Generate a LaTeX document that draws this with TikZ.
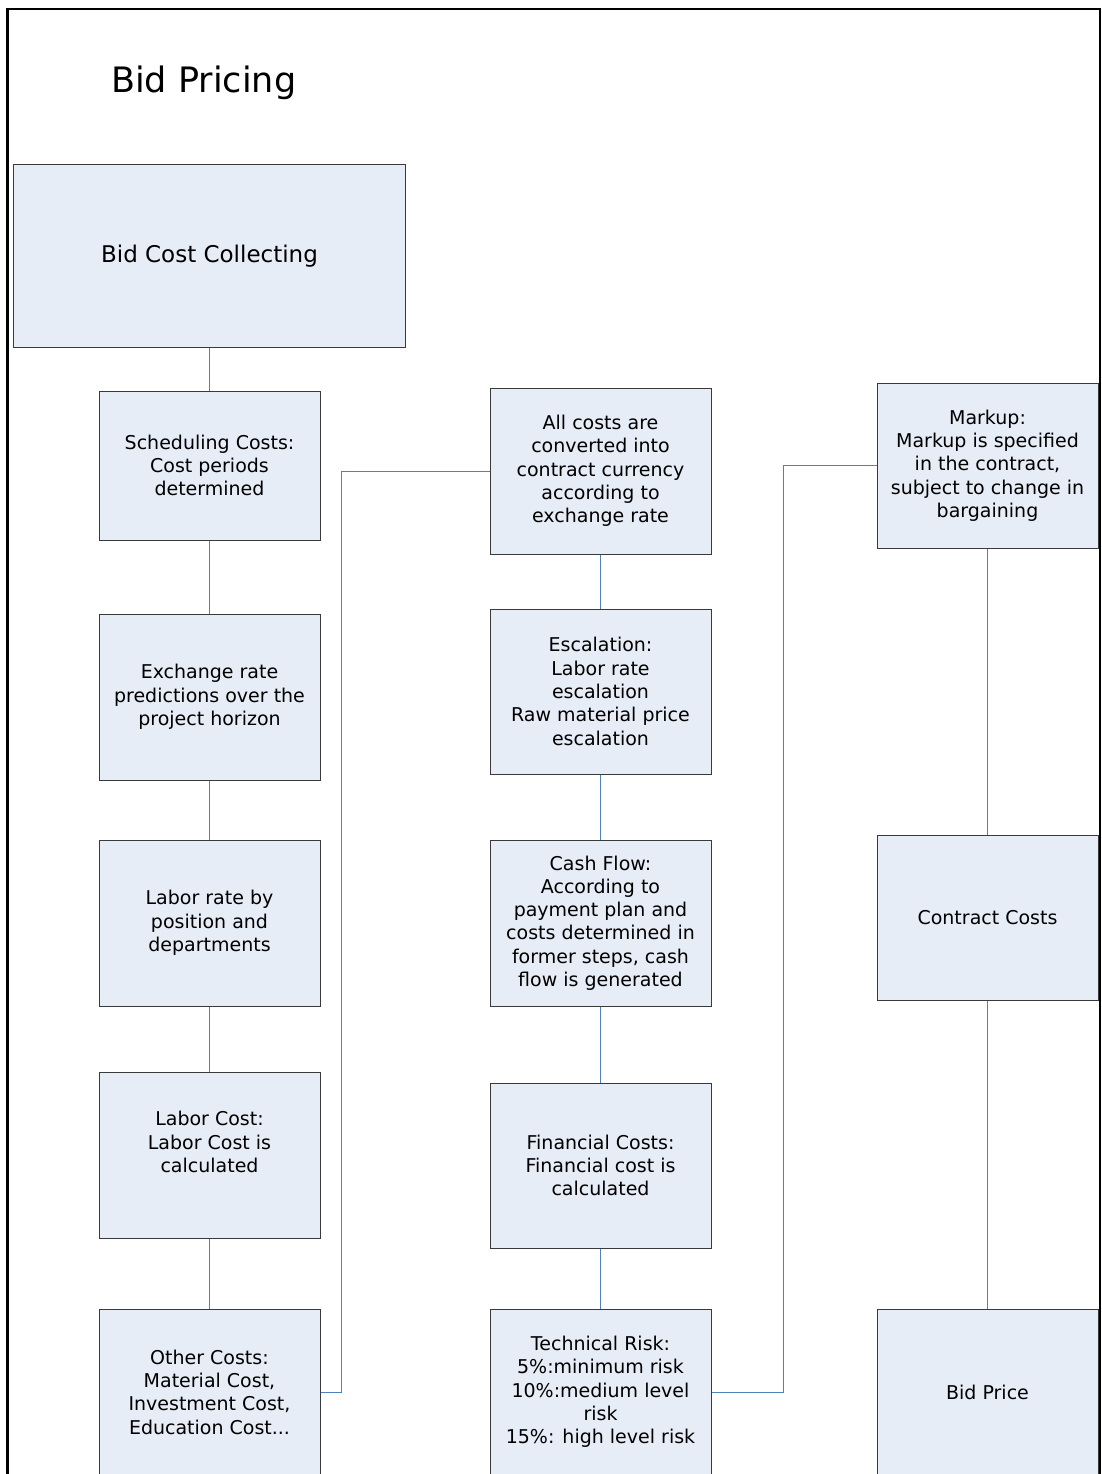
\documentclass[tikz,border=0pt]{standalone}
\usepackage{fontspec}
\setmainfont{DejaVu Sans}
\definecolor{boxfill}{HTML}{E7EDF7}
\definecolor{boxline}{HTML}{3A3A3A}
\definecolor{connblue}{HTML}{4F81BD}
\begin{document}
\begin{tikzpicture}[x=1pt,y=-1pt,
  box/.style={draw=boxline, fill=boxfill, line width=1pt, align=center, inner sep=0pt,
    minimum width=221, font=\fontsize{19}{23.3}\selectfont},
  txt/.style={align=center, inner sep=0pt, font=\fontsize{19}{23.3}\selectfont},
  conn/.style={draw=connblue, line width=1pt}]
\useasboundingbox (0,0) rectangle (1102,1474);
\clip (0,0) rectangle (1102,1474);
\draw[line width=2.5pt] (7.5,1500) -- (7.5,9) -- (1100,9) -- (1100,1500);

\node[anchor=base west, inner sep=0pt, font=\fontsize{35}{42}\selectfont] (title) at (111,93) {Bid Pricing};

\node[box, minimum width=392, minimum height=182, font=\fontsize{23}{28}\selectfont] (bcc) at (209.5,256) {Bid Cost Collecting};

% left column
\node[box, minimum height=149] (sc) at (209.5,465.5) {Scheduling Costs:\\Cost periods\\determined};
\node[box, minimum height=166] (ex) at (209.5,697) {Exchange rate\\predictions over the\\project horizon};
\node[box, minimum height=166] (lr) at (209.5,923) {Labor rate by\\position and\\departments};
\node[box, minimum height=166, label={[txt, yshift=13pt]center:{Labor Cost:\\Labor Cost is\\calculated}}] (lc) at (209.5,1155) {};
\node[box, minimum height=166] (oc) at (209.5,1392) {Other Costs:\\Material Cost,\\Investment Cost,\\Education Cost...};

% middle column
\node[box, minimum height=166] (ac) at (600.5,471) {All costs are\\converted into\\contract currency\\according to\\exchange rate};
\node[box, minimum height=165] (es) at (600.5,691.5) {Escalation:\\Labor rate\\escalation\\Raw material price\\escalation};
\node[box, minimum height=166] (cf) at (600.5,923) {Cash Flow:\\According to\\payment plan and\\costs determined in\\former steps, cash\\flow is generated};
\node[box, minimum height=165] (fc) at (600.5,1165.5) {Financial Costs:\\Financial cost is\\calculated};
\node[box, minimum height=166] (tr) at (600.5,1392) {Technical Risk:\\5\%:minimum risk\\10\%:medium level\\risk\\15\%: high level risk};

% right column
\node[box, minimum height=165] (mk) at (987.5,465.5) {Markup:\\Markup is specified\\in the contract,\\subject to change in\\bargaining};
\node[box, minimum height=165] (cc) at (987.5,917.5) {Contract Costs};
\node[box, minimum height=166] (bp) at (987.5,1392) {Bid Price};

% connectors
\draw[conn] (bcc.south) -- (sc.north);
\draw[conn] (sc.south) -- (ex.north);
\draw[conn] (ex.south) -- (lr.north);
\draw[conn] (lr.south) -- (lc.north);
\draw[conn] (lc.south) -- (oc.north);
\draw[conn] (ac.south) -- (es.north);
\draw[conn] (es.south) -- (cf.north);
\draw[conn] (cf.south) -- (fc.north);
\draw[conn] (fc.south) -- (tr.north);
\draw[conn] (mk.south) -- (cc.north);
\draw[conn] (cc.south) -- (bp.north);
\draw[conn] (oc.east) -- ++(21,0) |- (ac.west);
\draw[conn] (tr.east) -- ++(72,0) |- (mk.west);
\end{tikzpicture}
\end{document}
